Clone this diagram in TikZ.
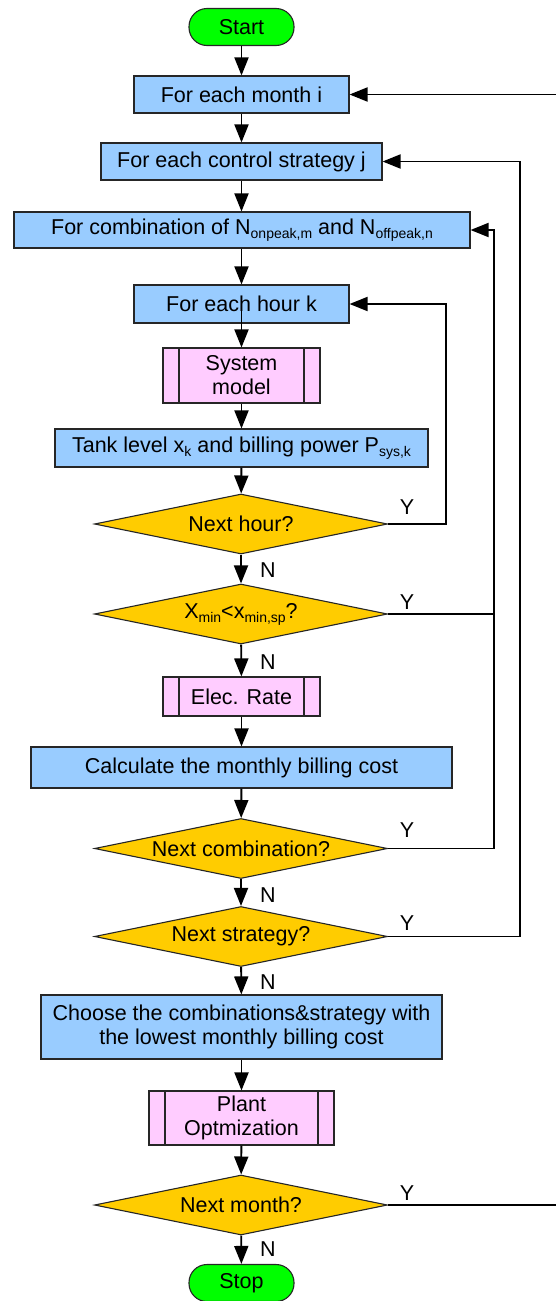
\documentclass[tikz,border=0pt]{standalone}
\usepackage{fontspec}
\setmainfont{Liberation Sans}
\usetikzlibrary{arrows.meta,shapes.geometric}
\definecolor{procblue}{HTML}{99CCFF}
\definecolor{subpink}{HTML}{FFCCFF}
\definecolor{decgold}{HTML}{FFCC00}
\definecolor{termgreen}{HTML}{00FF00}
% lowered small subscript in text
\newcommand\lsub[1]{\raisebox{-0.35ex}{\fontsize{14}{14}\selectfont #1}}

\begin{document}
\begin{tikzpicture}[x=1pt,y=-1pt,
  every node/.style={font=\fontsize{21.5}{24}\selectfont, inner sep=0pt, align=center},
  proc/.style={draw=black!85, line width=1.1pt, fill=procblue},
  subproc/.style={draw=black!85, line width=1.1pt, fill=subpink,
    path picture={
      \draw[black!85, line width=1.1pt]
        ([xshift=16pt]path picture bounding box.north west) -- ([xshift=16pt]path picture bounding box.south west)
        ([xshift=-16pt]path picture bounding box.north east) -- ([xshift=-16pt]path picture bounding box.south east);}},
  decision/.style={draw=black!85, line width=1.1pt, fill=decgold, shape=diamond, aspect=4.9,
    minimum width=293pt, minimum height=60pt},
  term/.style={draw=black!85, line width=1.1pt, fill=termgreen, rounded corners=18pt,
    minimum width=105pt, minimum height=37pt},
  arr/.style={line width=1.9pt, -{Triangle[length=18pt,width=14pt]}},
  line/.style={line width=1.9pt},
  lab/.style={font=\fontsize{21.5}{24}\selectfont}
]
\useasboundingbox (0,0) rectangle (555,1301);

% main column
\node[term] (start) at (241.5,27) {Start};
\node[proc, minimum width=215pt, minimum height=37pt] (month) at (241.5,94.5) {For each month i};
\node[proc, minimum width=281pt, minimum height=37pt] (strat) at (241.5,161.5) {For each control strategy j};
\node[proc, minimum width=456pt, minimum height=36pt] (comb) at (242,230)
  {For combination of N\lsub{onpeak,m} and N\lsub{offpeak,n}};
\node[proc, minimum width=215pt, minimum height=38pt] (hour) at (241.5,304) {For each hour k};
\node[subproc, minimum width=157pt, minimum height=55pt] (sysm) at (241.5,375.5) {System\\model};
\node[proc, minimum width=373pt, minimum height=38pt] (tank) at (241.5,448)
  {Tank level x\lsub{k} and billing power P\lsub{sys,k}};
\node[decision] (dhour) at (241,524) {Next hour?};
\node[decision] (dx) at (241,614) {X\lsub{min}<x\lsub{min,sp}?};
\node[subproc, minimum width=157pt, minimum height=39pt] (elec) at (241.5,696.5) {Elec. Rate};
\node[proc, minimum width=421pt, minimum height=41pt] (calc) at (241.5,767.5) {Calculate the monthly billing cost};
\node[decision] (dcomb) at (241,848.5) {Next combination?};
\node[decision] (dstrat) at (241,936.5) {Next strategy?};
\node[proc, minimum width=401pt, minimum height=64pt] (choose) at (241.5,1027)
  {Choose the combinations\&strategy with\\the lowest monthly billing cost};
\node[subproc, minimum width=185pt, minimum height=54pt] (plant) at (241.5,1118) {Plant\\Optmization};
\node[decision] (dmonth) at (241,1205) {Next month?};
\node[term] (stop) at (241.5,1283) {Stop};

% downward flow
\draw[arr] (start) -- (month);
\draw[arr] (month) -- (strat);
\draw[arr] (comb.south -| hour.north) -- (hour);
\draw[arr] (strat) -- (comb.north -| strat.south);
\draw[arr] ([yshift=-6pt]hour.center) -- (sysm.north);
\draw[arr] (sysm) -- (tank);
\draw[arr] (tank) -- (dhour);
\draw[arr] (dhour) -- (dx);
\draw[arr] (dx) -- (elec);
\draw[arr] (elec) -- (calc);
\draw[arr] (calc) -- (dcomb);
\draw[arr] (dcomb) -- (dstrat);
\draw[arr] (dstrat) -- (choose);
\draw[arr] (choose) -- (plant);
\draw[arr] (plant) -- (dmonth);
\draw[arr] (dmonth) -- (stop);

% loop-back connectors
\coordinate (xhour) at (446,0);
\coordinate (xcomb) at (494,0);
\coordinate (xstrat) at (520,0);
\coordinate (xmonth) at (562,0);
\draw[arr] (dhour.east) -- (dhour.east -| xhour) |- (hour.east);
\draw[arr] (dcomb.east) -- (dcomb.east -| xcomb) |- (comb.east);
\draw[line] (dx.east) -- (dx.east -| xcomb);
\draw[arr] (dstrat.east) -- (dstrat.east -| xstrat) |- (strat.east);
\draw[arr] (dmonth.east) -- (dmonth.east -| xmonth) |- (month.east);

% branch labels
\node[lab] (yhour) at (407,507) {Y};
\node[lab] (yx) at (407,602) {Y};
\node[lab] (ycomb) at (407,830) {Y};
\node[lab] (ystrat) at (407,923) {Y};
\node[lab] (ymonth) at (407,1193) {Y};
\node[lab] (nhour) at (268,570) {N};
\node[lab] (nx) at (268,662) {N};
\node[lab] (ncomb) at (268,895) {N};
\node[lab] (nstrat) at (268,982) {N};
\node[lab] (nmonth) at (268,1249) {N};
\end{tikzpicture}
\end{document}
